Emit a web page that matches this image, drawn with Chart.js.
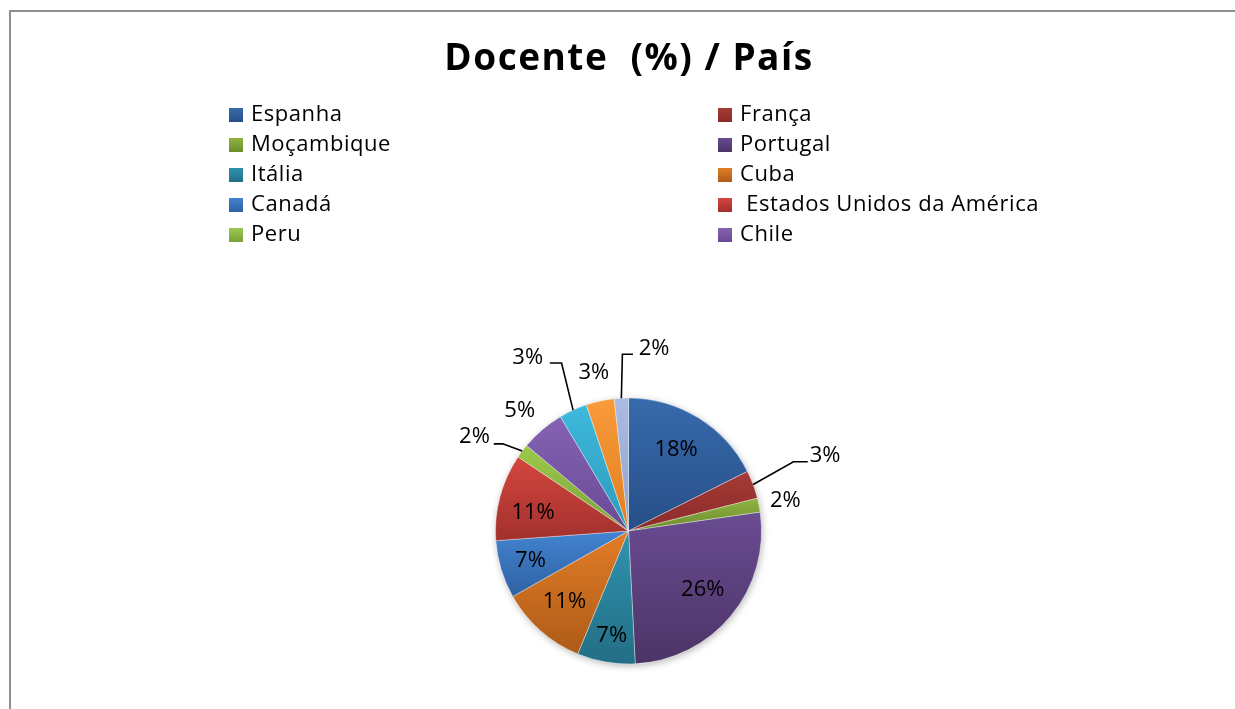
<!DOCTYPE html>
<html>
<head>
<meta charset="utf-8">
<script src="https://cdn.jsdelivr.net/npm/chart.js@4.4.1/dist/chart.umd.min.js"></script>
<style>
  html, body { margin: 0; padding: 0; background: #fff; width: 1235px; height: 709px; overflow: hidden; }
  #frame { position: absolute; left: 9px; top: 10px; width: 1400px; height: 900px;
           border-left: 2px solid #8e8e8e; border-top: 2px solid #8e8e8e; }
  #chart { position: absolute; left: 0; top: 0; }
  #title { position: absolute; left: 0; top: 37px; width: 1258px; text-align: center;
           font-family: "Open Sans"; font-weight: bold; font-size: 37px; line-height: 37px;
           letter-spacing: 1.5px; color: #000; white-space: pre; }
  .lg-box { position: absolute; width: 14px; height: 14px; }
  .lg-text { position: absolute; font-family: "Open Sans"; font-size: 22px; line-height: 22px;
             letter-spacing: 0.55px; color: #000; white-space: pre; }
</style>
</head>
<body>
<div id="frame"></div>
<canvas id="chart" width="1235" height="709"></canvas>
<div id="title">Docente  (%) / País</div>
<div id="legend"></div>
<script>
// ---- data ----
const categories = ['Espanha', 'França', 'Moçambique', 'Portugal', 'Itália', 'Cuba', 'Canadá',
                    ' Estados Unidos da América', 'Peru', 'Chile', '', '', ''];
const shares = [17.5, 3.4, 1.7, 26.3, 7.0, 10.5, 7.0, 10.5, 1.7, 5.3, 3.4, 3.4, 1.7];
const legendVisibleCount = 10;

// ---- styles ----
const topColors    = ['#376AAC', '#A63A36', '#8DB33F', '#6A4C92', '#3093AF', '#E27D27', '#4283D0',
                      '#D4463F', '#9BC94B', '#8562B4', '#3EB9DC', '#F99B39', '#AABCE2'];
const bottomColors = ['#274F88', '#892B29', '#6E8C2F', '#4B3466', '#236E85', '#AD5B18', '#2F61A2',
                      '#A2302D', '#7CA13A', '#694A94', '#2C9ABC', '#DF7E22', '#8FA2CC'];
const RADIUS = 133;
const labelPlacement = [
  { k: 0.71, da: -1.4 },
  { lead: true, e: 1.345, da: -2.3, h: 14.3, gap: 2, dy: -6 },
  { k: 1.2, da: 0.4 },
  { k: 0.71, da: -1.3 },
  { k: 0.80, da: -0.7 },
  { k: 0.72, da: 0.5 },
  { k: 0.77, da: 0 },
  { k: 0.73, da: -4.1 },
  { lead: true, e: 1.15, da: -2.2, h: -9, gap: 4, dy: -6.7 },
  { k: 1.22, da: -1.7 },
  { lead: true, e: 1.36, da: 2.9, h: -11.7, gap: 6.7, dy: -5.7 },
  { k: 1.22, da: 0 },
  { lead: true, e: 1.33, da: 1.1, h: 10.6, gap: 5.7, dy: -5 }
];
const legendCols = [229, 718];
const legendTop = 108;
const legendRowGap = 30;

const total = shares.reduce((a, b) => a + b, 0);

function sliceGradient(c) {
  const i = c.dataIndex;
  const chart = c.chart;
  const area = chart.chartArea;
  if (!area || c.type !== 'data') return topColors[i];
  const cx = (area.left + area.right) / 2, cy = (area.top + area.bottom) / 2;
  let before = 0;
  for (let j = 0; j < i; j++) before += shares[j];
  const a0 = -Math.PI / 2 + before / total * 2 * Math.PI;
  const a1 = a0 + shares[i] / total * 2 * Math.PI;
  const ys = [cy, cy + RADIUS * Math.sin(a0), cy + RADIUS * Math.sin(a1)];
  for (const t of [-Math.PI / 2, Math.PI / 2, 3 * Math.PI / 2]) {
    if (t >= a0 && t <= a1) ys.push(cy + RADIUS * Math.sin(t));
  }
  const y0 = Math.min(...ys), y1 = Math.max(...ys);
  const g = chart.ctx.createLinearGradient(0, y0, 0, y1 + 0.5);
  g.addColorStop(0, topColors[i]);
  g.addColorStop(1, bottomColors[i]);
  return g;
}

const shadowPlugin = {
  id: 'pieShadow',
  beforeDatasetsDraw(chart) {
    const arc = chart.getDatasetMeta(0).data[0];
    if (!arc) return;
    const { x, y, outerRadius } = arc.getProps(['x', 'y', 'outerRadius'], true);
    const ctx = chart.ctx;
    ctx.save();
    ctx.shadowColor = 'rgba(0,0,0,0.28)';
    ctx.shadowBlur = 7;
    ctx.shadowOffsetX = 1;
    ctx.shadowOffsetY = 2;
    ctx.beginPath();
    ctx.arc(x, y, outerRadius, 0, Math.PI * 2);
    ctx.fillStyle = '#ffffff';
    ctx.fill();
    ctx.restore();
  }
};

const labelPlugin = {
  id: 'pctLabels',
  afterDatasetsDraw(chart) {
    const ctx = chart.ctx;
    const meta = chart.getDatasetMeta(0);
    ctx.save();
    ctx.font = '22px "Open Sans"';
    ctx.fillStyle = '#000';
    ctx.strokeStyle = '#000';
    ctx.lineWidth = 1.6;
    ctx.textBaseline = 'middle';
    meta.data.forEach((arc, i) => {
      const p = labelPlacement[i];
      const { x, y, startAngle, endAngle, outerRadius: R } =
        arc.getProps(['x', 'y', 'startAngle', 'endAngle', 'outerRadius'], true);
      const mid = (startAngle + endAngle) / 2;
      const text = Math.round(shares[i] / total * 100) + '%';
      if (p.lead) {
        const ea = mid + p.da * Math.PI / 180;
        const sx = x + Math.cos(mid) * R, sy = y + Math.sin(mid) * R;
        const ex = x + Math.cos(ea) * R * p.e, ey = y + Math.sin(ea) * R * p.e;
        const hx = ex + p.h;
        ctx.beginPath();
        ctx.moveTo(sx, sy);
        ctx.lineTo(ex, ey);
        ctx.lineTo(hx, ey);
        ctx.stroke();
        const dir = p.h > 0 ? 1 : -1;
        ctx.textAlign = dir > 0 ? 'left' : 'right';
        ctx.fillText(text, hx + dir * p.gap, ey + p.dy);
      } else {
        const a = mid + p.da * Math.PI / 180;
        ctx.textAlign = 'center';
        ctx.fillText(text, x + Math.cos(a) * R * p.k, y + Math.sin(a) * R * p.k);
      }
    });
    ctx.restore();
  }
};

function buildLegend() {
  const lg = document.getElementById('legend');
  for (let i = 0; i < legendVisibleCount; i++) {
    const col = i % 2, row = Math.floor(i / 2);
    const bx = legendCols[col], by = legendTop + row * legendRowGap;
    const box = document.createElement('div');
    box.className = 'lg-box';
    box.style.left = bx + 'px';
    box.style.top = by + 'px';
    box.style.background = 'linear-gradient(to bottom, ' + topColors[i] + ', ' + bottomColors[i] + ')';
    lg.appendChild(box);
    const t = document.createElement('div');
    t.className = 'lg-text';
    t.style.left = (bx + 22) + 'px';
    t.style.top = (by - 7) + 'px';
    t.textContent = categories[i];
    lg.appendChild(t);
  }
}

function draw() {
  buildLegend();
  new Chart(document.getElementById('chart'), {
    type: 'pie',
    data: {
      labels: categories,
      datasets: [{
        data: shares,
        radius: RADIUS,
        backgroundColor: sliceGradient,
        borderColor: 'rgba(255,255,255,0.35)',
        borderWidth: 1
      }]
    },
    options: {
      responsive: false,
      animation: false,
      layout: { padding: { left: 22, right: 0, top: 353, bottom: 0 } },
      plugins: {
        legend: { display: false },
        title: { display: false },
        tooltip: { enabled: false }
      }
    },
    plugins: [shadowPlugin, labelPlugin]
  });
}

if (document.fonts && document.fonts.load) {
  Promise.all([
    document.fonts.load('22px "Open Sans"'),
    document.fonts.load('bold 37px "Open Sans"')
  ]).then(draw, draw);
} else {
  draw();
}
</script>
</body>
</html>
